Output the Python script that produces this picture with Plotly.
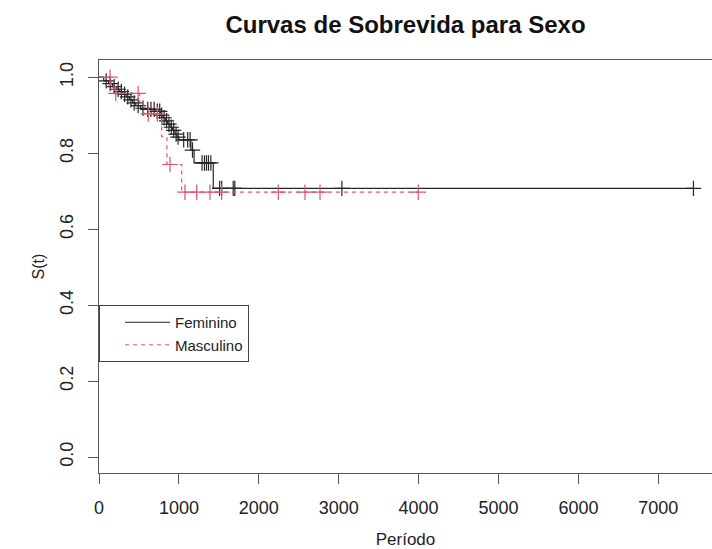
import numpy as np
import plotly.graph_objects as go

# Kaplan-Meier step estimates by sex (time in days, survival after each step)
fem_t = [0, 60, 120, 170, 220, 260, 300, 340, 380, 420, 460, 520, 580, 700,
         770, 800, 830, 860, 890, 920, 950, 975, 1000, 1150, 1190, 1430]
fem_s = [1.0, 0.99, 0.983, 0.975, 0.968, 0.962, 0.955, 0.948, 0.94, 0.932,
         0.925, 0.918, 0.915, 0.91, 0.90, 0.893, 0.885, 0.876, 0.868, 0.86,
         0.85, 0.842, 0.835, 0.808, 0.774, 0.707]
fem_end = 7440
fem_cens = [90, 140, 190, 240, 280, 320, 360, 400, 440, 490, 550, 610, 650,
            690, 730, 760, 785, 815, 845, 875, 905, 935, 965, 990, 1060, 1110,
            1140, 1170, 1290, 1320, 1345, 1370, 1400, 1510, 1535, 1680, 1700,
            3040, 7440]

masc_t = [0, 150, 190, 510, 560, 785, 850, 1035]
masc_s = [1.0, 0.98, 0.957, 0.93, 0.903, 0.843, 0.77, 0.697]
masc_end = 3996
masc_cens = [138, 210, 490, 617, 730, 889, 1076, 1223, 1389, 1535, 2244,
             2578, 2766, 3996]

x_ticks = [0, 1000, 2000, 3000, 4000, 5000, 6000, 7000]
y_ticks = [0.0, 0.2, 0.4, 0.6, 0.8, 1.0]

FONT = "Liberation Sans, Arial, Helvetica, sans-serif"
BLACK = "#262626"
RED = "#DF536B"


def step_xy(times, surv, end):
    return list(times) + [end], list(surv) + [surv[-1]]


def surv_at(times, surv, when):
    idx = np.searchsorted(np.asarray(times), np.asarray(when), side="right") - 1
    return [surv[i] for i in idx]


fig = go.Figure()

groups = [
    ("Feminino", fem_t, fem_s, fem_end, fem_cens, BLACK, "solid"),
    ("Masculino", masc_t, masc_s, masc_end, masc_cens, RED, "4px,4px"),
]
for name, t, s, end, cens, color, dash in groups:
    xs, ys = step_xy(t, s, end)
    fig.add_trace(go.Scatter(
        x=xs, y=ys, mode="lines", name=name, line_shape="hv",
        line=dict(color=color, width=1.2, dash=dash),
    ))
    fig.add_trace(go.Scatter(
        x=cens, y=surv_at(t, s, cens), mode="markers", showlegend=False,
        marker=dict(symbol="cross-thin", size=11,
                    line=dict(color=color, width=1.2)),
    ))

fig.update_layout(
    width=712, height=549,
    margin=dict(l=99, r=0, t=60, b=76),
    paper_bgcolor="white", plot_bgcolor="white",
    font=dict(family=FONT, color=BLACK),
    title=dict(text="<b>Curvas de Sobrevida para Sexo</b>",
               x=0.5, xref="paper", y=1 - 25 / 549, yref="container",
               yanchor="middle", font=dict(size=24, color="#111")),
    showlegend=True,
    legend=dict(x=0, xanchor="left", y=(473 - 305) / 413, yanchor="top",
                bordercolor="#444", borderwidth=1, bgcolor="white",
                font=dict(size=15, color="#222"), itemwidth=45,
                indentation=20, tracegroupgap=1),
)
fig.update_xaxes(
    range=[0, 7672], tickmode="array", tickvals=x_ticks,
    ticktext=[str(v) for v in x_ticks],
    showline=True, linecolor="#555", linewidth=1.2, mirror=True,
    ticks="outside", ticklen=10, tickcolor="#555", tickwidth=1.2,
    showgrid=False, zeroline=False, ticklabelstandoff=8,
    tickfont=dict(size=18, color="#222"),
    title=dict(text="Período", font=dict(size=17, color="#222"), standoff=20),
)
fig.update_yaxes(
    range=[-0.042, 1.045], tickmode="array", tickvals=y_ticks,
    ticktext=[f"{v:.1f}" for v in y_ticks], tickangle=-90,
    showline=True, linecolor="#555", linewidth=1.2,
    ticks="outside", ticklen=10, tickcolor="#555", tickwidth=1.2,
    showgrid=False, zeroline=False, ticklabelstandoff=8,
    tickfont=dict(size=18, color="#222"),
    title=dict(text="S(t)", font=dict(size=16, color="#222"), standoff=8),
)

fig.write_html("out.html")
